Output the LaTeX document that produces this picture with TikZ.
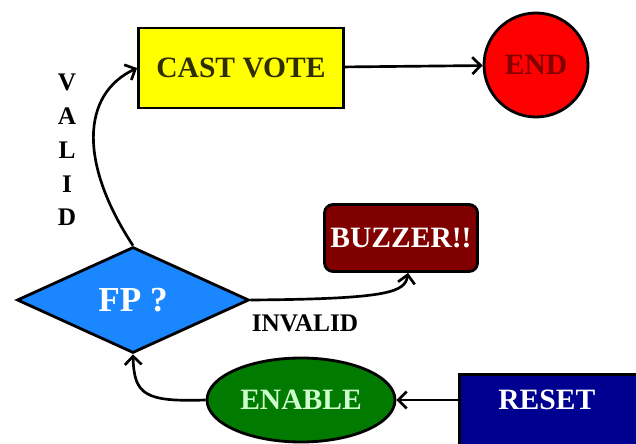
\documentclass[tikz,border=0pt]{standalone}
\usepackage{fontspec}
\setmainfont{Liberation Serif}
\usetikzlibrary{shapes.geometric,arrows.meta}

\definecolor{castyellow}{HTML}{FFFF00}
\definecolor{casttext}{HTML}{2E2E00}
\definecolor{endred}{HTML}{FF0000}
\definecolor{maroon}{HTML}{800000}
\definecolor{fpblue}{HTML}{1A86FF}
\definecolor{enablegreen}{HTML}{007A00}
\definecolor{enabletext}{HTML}{CCFFCC}
\definecolor{resetblue}{HTML}{000090}

\begin{document}
\begin{tikzpicture}[x=0.025cm, y=-0.025cm,
	box/.style={draw, line width=2pt, inner sep=0pt, font=\bfseries\fontsize{21}{24}\selectfont},
	arr/.style={-{Straight Barb[length=6pt, width=12pt, line width=1.9pt]}, line width=1.9pt},
	lbl/.style={font=\bfseries\fontsize{18}{24}\selectfont}]

	\def\px{0.025cm} % un pixel de l'image

	\useasboundingbox (0, 0) rectangle (636, 444);
	\clip (0, 0) rectangle (636, 444);

	% les blocs
	\node[box, fill=castyellow, text=casttext, minimum width={205*\px}, minimum height={80*\px}] (cast) at (241, 68) {CAST VOTE};
	\node[box, circle, fill=endred, text=maroon, minimum size={104*\px}] (end) at (536, 65) {END};
	\node[box, rounded corners=6pt, fill=maroon, text=white, minimum width={153*\px}, minimum height={67*\px}] (buzzer) at (401, 238) {BUZZER!!};
	\node[box, diamond, aspect=2.2, fill=fpblue, text=white, minimum width={232*\px}, minimum height={106*\px}, font=\bfseries\fontsize{25}{28}\selectfont] (fp) at (133, 300) {FP ?};
	\node[box, ellipse, fill=enablegreen, text=enabletext, minimum width={188*\px}, minimum height={84*\px}] (enable) at (301, 400) {ENABLE};
	\node[box, anchor=north west, fill=resetblue, text=white, text width={130*\px}, align=left, inner ysep={16*\px}, inner xsep={39*\px}, text depth={60*\px}] (reset) at (458, 373) {RESET};

	% les textes
	\node[lbl, align=center] (valid) at (67, 150) {V\\A\\L\\I\\D};
	\node[lbl] (invalid) at (305, 323) {INVALID};

	% les fleches
	\draw[arr] (cast) -- (end);
	\draw[arr] (fp.north) .. controls (80, 165) and (80, 95) .. (cast.west);
	\draw[arr] (fp.east) .. controls (390, 299) and (405, 292) .. ([xshift={7*\px}]buzzer.south);
	\draw[arr] (enable.east -| reset.west) -- (enable.east);
	\draw[arr] (enable.west) .. controls (145, 402) and (134, 395) .. (fp.south);

\end{tikzpicture}
\end{document}
